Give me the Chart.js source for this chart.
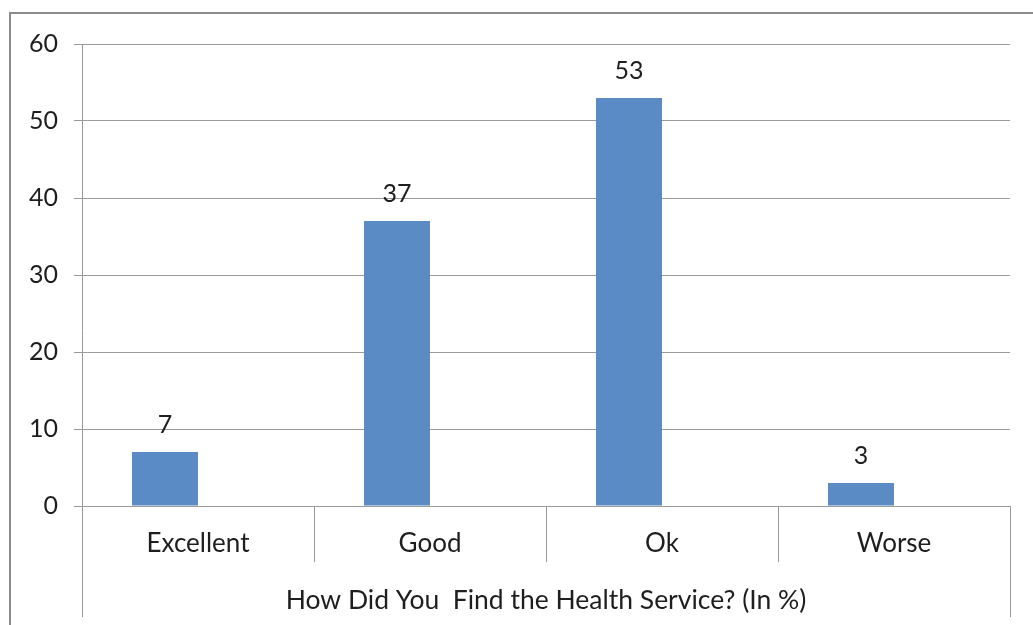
<!DOCTYPE html>
<html>
<head>
<meta charset="utf-8">
<script src="https://cdn.jsdelivr.net/npm/chart.js@4"></script>
<style>
  html, body { margin: 0; padding: 0; background: #fff; }
  canvas { display: block; }
</style>
</head>
<body>
<canvas id="c" width="1033" height="625"></canvas>
<script>
const categories = ["Excellent", "Good", "Ok", "Worse"];
const values = [7, 37, 53, 3];
const emptySeries = [null, null, null, null]; // Excel's hidden 2nd series slot
const yTicks = [0, 10, 20, 30, 40, 50, 60];
const axisTitle = "How Did You  Find the Health Service? (In %)";

const FONT = "Lato, 'Open Sans', sans-serif";
const TEXT = "#1e1e1e";
const GRID = "#9a9a9a";

// frame, axis line, category separators, value labels
const decor = {
  id: "decor",
  afterDraw(chart) {
    const { ctx, chartArea } = chart;
    const xs = chart.scales.x;
    ctx.save();
    ctx.strokeStyle = GRID;
    ctx.lineWidth = 1;
    for (let i = 0; i <= categories.length; i++) {
      const x = Math.round(xs.getPixelForValue(i - 0.5)) + 0.5;
      const outer = i === 0 || i === categories.length;
      ctx.beginPath();
      ctx.moveTo(x, i === 0 ? chartArea.top : chartArea.bottom);
      ctx.lineTo(x, chartArea.bottom + (outer ? 111 : 56));
      ctx.stroke();
    }
    // outer frame
    ctx.strokeStyle = "#8c8c8c";
    ctx.lineWidth = 2;
    ctx.strokeRect(10, 13, 2000, 2000);

    // value labels
    const meta = chart.getDatasetMeta(0);
    ctx.fillStyle = TEXT;
    ctx.font = "25px " + FONT;
    ctx.textAlign = "center";
    ctx.textBaseline = "middle";
    meta.data.forEach((bar, i) => {
      ctx.fillText(String(values[i]), bar.x, bar.y - 27);
    });
    ctx.restore();
  }
};

new Chart(document.getElementById("c"), {
  type: "bar",
  data: {
    labels: categories,
    datasets: [
      { data: values, backgroundColor: "#5b8bc5", categoryPercentage: 0.569, barPercentage: 1 },
      { data: emptySeries, backgroundColor: "#c0504d", categoryPercentage: 0.569, barPercentage: 1 }
    ]
  },
  options: {
    responsive: false,
    animation: false,
    layout: { padding: { top: 44, right: 23, left: 0, bottom: 0 } },
    plugins: { legend: { display: false }, tooltip: { enabled: false } },
    scales: {
      x: {
        grid: { display: false, drawTicks: false },
        border: { display: false },
        ticks: { color: TEXT, font: { family: FONT, size: 26 }, padding: 22, maxRotation: 0 },
        title: { display: true, text: axisTitle, color: TEXT, font: { family: FONT, size: 26.5 }, padding: { top: 0, bottom: 9 } },
        afterFit: (s) => { s.height = 119; }
      },
      y: {
        min: 0,
        max: 60,
        afterBuildTicks: (s) => { s.ticks = yTicks.map(v => ({ value: v })); },
        grid: { color: GRID, tickLength: 8 },
        border: { display: false },
        ticks: { color: TEXT, font: { family: FONT, size: 25 }, padding: 16 },
        afterFit: (s) => { s.width = 82; }
      }
    }
  },
  plugins: [decor]
});
</script>
</body>
</html>
